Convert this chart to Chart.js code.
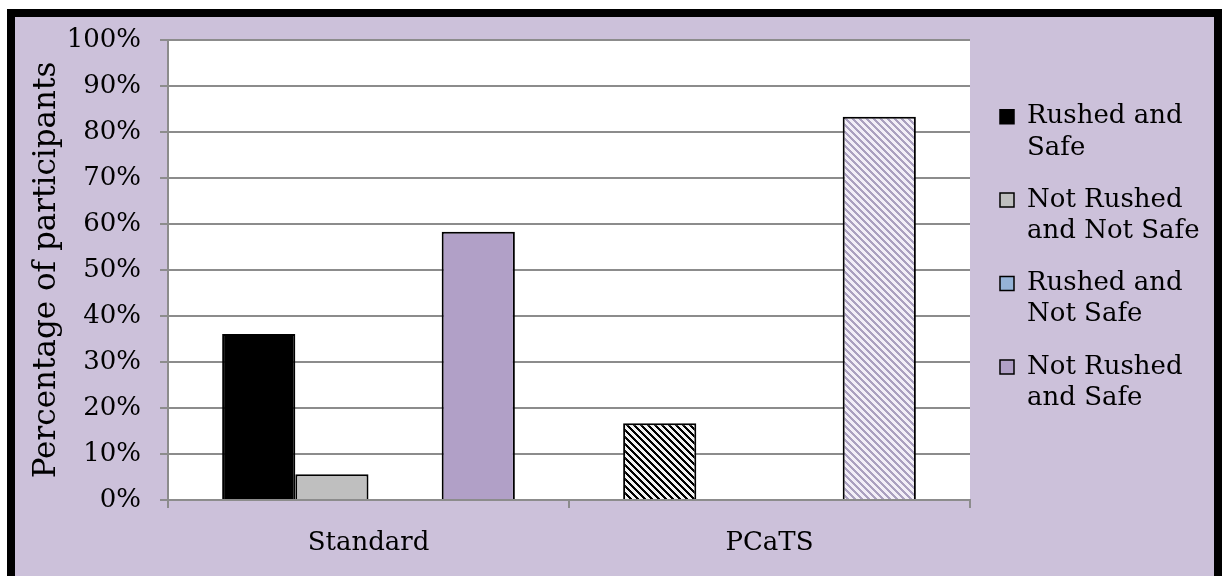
<!DOCTYPE html>
<html>
<head>
<meta charset="utf-8">
<script src="https://cdn.jsdelivr.net/npm/chart.js@4.4.1/dist/chart.umd.min.js"></script>
<style>
  body { margin: 0; background: #ffffff; overflow: hidden; }
  #wrap {
    position: absolute; left: 7px; top: 9px;
    width: 1199px; height: 575px;
    border: 8px solid #000; background: #ccc1da;
  }
</style>
</head>
<body>
<div id="wrap"><canvas id="myChart" width="1199" height="575"></canvas></div>
<script>
// values (percent of participants)
const categories = ['Standard', 'PCaTS'];
const rushedSafe = [36.1, 16.7];
const notRushedNotSafe = [5.6, 0];
const rushedNotSafe = [0, 0];
const notRushedSafe = [58.3, 83.3];
const seriesNames = [['Rushed and', 'Safe'], ['Not Rushed', 'and Not Safe'], ['Rushed and', 'Not Safe'], ['Not Rushed', 'and Safe']];

const FONT = 'DejaVu Serif';
const GRID = '#8c8c8c';

// diagonal hatch used for the PCaTS bars
function hatch(dark, light) {
  const c = document.createElement('canvas');
  c.width = 7; c.height = 7;
  const g = c.getContext('2d');
  g.fillStyle = light;
  g.fillRect(0, 0, 7, 7);
  g.fillStyle = dark;
  for (let y = 0; y < 7; y++) {
    for (let x = 0; x < 7; x++) {
      if (((x - y) % 7 + 7) % 7 < 3) g.fillRect(x, y, 1, 1);
    }
  }
  return g.createPattern(c, 'repeat');
}

const blackHatch = hatch('#000000', '#f2f2f2');
const purpleHatch = hatch('#aaa0bf', '#f2eef7');

const zeroless = ctx => (ctx.raw === 0 ? 0 : 2);

const plotBg = {
  id: 'plotBg',
  beforeDraw(chart) {
    const a = chart.chartArea;
    chart.ctx.save();
    chart.ctx.fillStyle = '#ffffff';
    chart.ctx.fillRect(a.left, a.top, a.right - a.left, a.bottom - a.top);
    chart.ctx.restore();
  }
};

// keep the legend a fixed width and nudge it into place beside the plot
const legendFix = {
  id: 'legendFix',
  afterInit(chart) {
    const lg = chart.legend;
    const fit = lg.fit;
    lg.fit = function () {
      fit.call(this);
      this.width = 244;
    };
  },
  afterLayout(chart) {
    const lg = chart.legend;
    lg.left += 9; lg.right += 9;
    lg.top -= 56; lg.bottom -= 56;
  }
};

new Chart('myChart', {
  type: 'bar',
  data: {
    labels: categories,
    datasets: [
      { label: 'Rushed and Safe', data: rushedSafe, backgroundColor: ['#000000', blackHatch], borderColor: '#000', borderWidth: zeroless },
      { label: 'Not Rushed and Not Safe', data: notRushedNotSafe, backgroundColor: '#bfbfbf', borderColor: '#000', borderWidth: zeroless },
      { label: 'Rushed and Not Safe', data: rushedNotSafe, backgroundColor: '#95b3d7', borderColor: '#000', borderWidth: zeroless },
      { label: 'Not Rushed and Safe', data: notRushedSafe, backgroundColor: ['#b1a0c7', purpleHatch], borderColor: '#000', borderWidth: zeroless }
    ]
  },
  options: {
    responsive: false,
    animation: false,
    categoryPercentage: 0.73,
    barPercentage: 1,
    layout: { padding: { top: 23, right: 0, left: 0, bottom: 0 } },
    plugins: {
      tooltip: { enabled: false },
      legend: {
        position: 'right',
        align: 'center',
        labels: {
          color: '#000',
          font: { family: FONT, size: 26, lineHeight: 1.2 },
          boxWidth: 14,
          boxHeight: 14,
          padding: 21,
          generateLabels(chart) {
            const items = Chart.defaults.plugins.legend.labels.generateLabels(chart);
            items.forEach((it, i) => {
              it.text = seriesNames[i];
              it.lineWidth = 1.5;
              it.strokeStyle = '#000';
            });
            return items;
          }
        }
      }
    },
    scales: {
      x: {
        afterFit(s) { s.height = 92; },
        grid: { drawOnChartArea: false, drawTicks: true, tickLength: 8, color: GRID, lineWidth: 2 },
        border: { color: GRID, width: 2 },
        ticks: { color: '#000', font: { family: FONT, size: 26 }, padding: 20 }
      },
      y: {
        min: 0,
        max: 100,
        afterFit(s) { s.width = 153; s.paddingTop = 0; s.paddingBottom = 0; },
        grid: { color: GRID, lineWidth: 2, tickLength: 8 },
        border: { color: GRID, width: 2 },
        ticks: { stepSize: 10, color: '#000', font: { family: FONT, size: 26 }, padding: 19, callback: v => v + '%' },
        title: { display: true, text: 'Percentage of participants', color: '#000', font: { family: FONT, size: 31 }, padding: { top: 13, bottom: 0 } }
      }
    }
  },
  plugins: [plotBg, legendFix]
});
</script>
</body>
</html>
